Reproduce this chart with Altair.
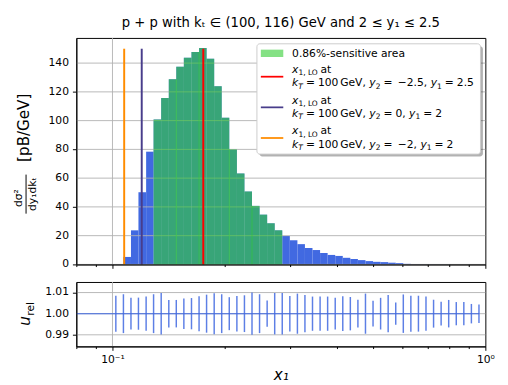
import altair as alt
import pandas as pd

FONT = "DejaVu Sans"

# ---------------- data ----------------
edges = [0.1021, 0.1070, 0.1121, 0.1174, 0.1231, 0.1289, 0.1351, 0.1416, 0.1483, 0.1554,
         0.1629, 0.1707, 0.1788, 0.1874, 0.1963, 0.2057, 0.2156, 0.2259, 0.2367, 0.2480,
         0.2599, 0.2723, 0.2853, 0.2990, 0.3133, 0.3282, 0.3439, 0.3604, 0.3776, 0.3957,
         0.4146, 0.4344, 0.4552, 0.4770, 0.4998, 0.5237, 0.5487, 0.5750, 0.6025, 0.6313,
         0.6615, 0.6931, 0.7263, 0.7610, 0.7974, 0.8356, 0.8755, 0.9174, 0.9613, 1.0073]
heights = [0.0, 5.2, 23.7, 50.2, 78.4, 100.7, 115.7, 128.7, 137.5, 143.7,
           147.7, 150.5, 143.0, 123.9, 102.0, 80.0, 63.2, 50.7, 40.7, 34.6,
           28.6, 23.7, 19.8, 16.8, 14.1, 11.4, 10.0, 8.0, 6.6, 5.9,
           4.6, 3.7, 3.0, 2.3, 1.8, 1.6, 1.2, 0.9, 0.4, 0.3,
           0.2, 0.15, 0.1, 0.08, 0.05, 0.04, 0.03, 0.02, 0.01]
rel_err = [0.0085, 0.0092, 0.0075, 0.0076, 0.0081, 0.0092, 0.0098, 0.0065, 0.0065, 0.0072,
           0.0074, 0.0083, 0.0090, 0.0097, 0.0092, 0.0078, 0.0084, 0.0087, 0.0100, 0.0092,
           0.0062, 0.0098, 0.0098, 0.0084, 0.0095, 0.0088, 0.0081, 0.0081, 0.0081, 0.0075,
           0.0082, 0.0079, 0.0066, 0.0095, 0.0061, 0.0075, 0.0088, 0.0053, 0.0091, 0.0085,
           0.0085, 0.0081, 0.0066, 0.0056, 0.0065, 0.0055, 0.0055, 0.0046, 0.0044]
sens_first, sens_last = 5, 21          # bins inside the sensitive area
sens_joins = [8, 11, 15, 18]           # edges where the area pieces overlap
xlo_values = [0.1752, 0.1198, 0.1075]
xlo_colors = ["#ff0000", "#483d8b", "#ff8c00"]
xlo_top = 150
y_ticks = [0, 20, 40, 60, 80, 100, 120, 140]
r_ticks = [0.99, 1.00, 1.01]
x_ticks = [0.08, 0.09, 0.1, 0.2, 0.3, 0.4, 0.5, 0.6, 0.7, 0.8, 0.9, 1.0]
x_domain = [0.08, 1.0]
y_domain = [0, 157.5]
r_domain = [0.9845, 1.0150]

title_text = "p + p with kₜ ∈ (100, 116) GeV and 2 ≤ y₁ ≤ 2.5"
legend_area_label = "0.86%-sensitive area"
legend_y2 = ["−2.5,", "0,", "−2,"]
legend_y1 = ["2.5", "2", "2"]

# ---------------- tables ----------------
bins = pd.DataFrame({"lo": edges[:-1], "hi": edges[1:], "h": heights,
                     "i": list(range(len(heights)))})
sens = bins[(bins.i >= sens_first) & (bins.i <= sens_last)]
joins = pd.DataFrame({"x": [edges[i] for i in sens_joins],
                      "h": [min(heights[i - 1], heights[i]) for i in sens_joins]})
errs = pd.DataFrame({"x": edges[:len(rel_err)],
                     "lo": [1 - e for e in rel_err],
                     "hi": [1 + e for e in rel_err]})
xlo = pd.DataFrame({"x": xlo_values, "c": xlo_colors})
ygrid = pd.DataFrame({"v": y_ticks})
rgrid = pd.DataFrame({"v": r_ticks})
one = pd.DataFrame({"k": [0]})

W, H_MAIN, H_RATIO = 419, 232, 66

xs = alt.Scale(type="log", domain=x_domain, nice=False)
ys = alt.Scale(domain=y_domain, nice=False, zero=False)
rs = alt.Scale(domain=r_domain, nice=False, zero=False)

tick_cond = {"condition": {"test": "datum.value == 0.1 || datum.value == 1", "value": 4},
             "value": 2.2}

x_axis_main = alt.Axis(values=x_ticks, labels=False, title=None, grid=False,
                       domainColor="black", tickColor="black", tickSize=tick_cond, zindex=1)
y_axis_main = alt.Axis(values=y_ticks, title=None, grid=False, labels=False, tickSize=4,
                       domainColor="black", tickColor="black", zindex=1)
x_axis_ratio = alt.Axis(values=x_ticks, grid=False, tickSize=tick_cond,
                        labelExpr="datum.value == 0.1 ? '10⁻¹' : (datum.value == 1 ? '10⁰' : '')",
                        labelFlush=False, labelOverlap=False, labelFontSize=11, labelPadding=3.5,
                        title="x₁", titleFontSize=15.5, titleFontStyle="italic",
                        titleFontWeight="normal", titlePadding=3,
                        domainColor="black", tickColor="black", zindex=1)
y_axis_ratio = alt.Axis(values=r_ticks, title=None, grid=False, labels=False, tickSize=4,
                        domainColor="black", tickColor="black", zindex=1)

GRID = "#b0b0b0"


def txt(t, x, y, size=11, style="normal", angle=0, align="left", baseline="alphabetic",
        color="black"):
    kw = dict(font=FONT, fontSize=size, fontStyle=style, align=align, baseline=baseline,
              color=color)
    if angle:
        kw["angle"] = angle
    return alt.Chart(one).mark_text(**kw).encode(
        x=alt.value(x), y=alt.value(y), text=alt.value(t))


# ---------------- main panel ----------------
blue = alt.Chart(bins).mark_rect(color="#4169e1").encode(
    x=alt.X("lo:Q", scale=xs, axis=x_axis_main),
    x2="hi:Q",
    y=alt.Y("h:Q", scale=ys, axis=y_axis_main),
    y2=alt.datum(0),
)
hgrid = alt.Chart(ygrid).mark_rule(color=GRID, strokeWidth=0.9).encode(
    y=alt.Y("v:Q", scale=ys, axis=y_axis_main))
ylabels = alt.Chart(ygrid).mark_text(font=FONT, fontSize=11, align="right",
                                     baseline="middle", color="black").encode(
    y=alt.Y("v:Q", scale=ys, axis=y_axis_main),
    x=alt.value(-7.5),
    text=alt.Text("v:Q", format="d"),
)
vgrid = alt.Chart(one).mark_rule(color=GRID, strokeWidth=0.9).encode(
    x=alt.datum(0.1, scale=xs))
green = alt.Chart(sens).mark_rect(color="#32cd32", opacity=0.6).encode(
    x=alt.X("lo:Q", scale=xs, axis=x_axis_main),
    x2="hi:Q",
    y=alt.Y("h:Q", scale=ys, axis=y_axis_main),
    y2=alt.datum(0),
)
join_lines = alt.Chart(joins).mark_rule(color="#32cd32", opacity=0.6, strokeWidth=1).encode(
    x=alt.X("x:Q", scale=xs, axis=x_axis_main),
    y=alt.Y("h:Q", scale=ys, axis=y_axis_main),
    y2=alt.datum(0),
)
vlines = alt.Chart(xlo).mark_rule(strokeWidth=2, opacity=1).encode(
    x=alt.X("x:Q", scale=xs, axis=x_axis_main),
    y=alt.datum(0),
    y2=alt.datum(xlo_top),
    color=alt.Color("c:N", scale=None),
)

# legend (drawn in pixel space of the plot area)
LX0, LX1, LY0, LY1 = 185, 414, 6, 119
legend_layers = [
    alt.Chart(one).mark_rect(color="#000000", opacity=0.3, cornerRadius=3).encode(
        x=alt.value(LX0 + 2.5), x2=alt.value(LX1 + 2.5), y=alt.value(LY0 + 2.5),
        y2=alt.value(LY1 + 2.5)),
    alt.Chart(one).mark_rect(color="white", stroke="#cccccc", strokeWidth=1,
                             cornerRadius=3).encode(
        x=alt.value(LX0), x2=alt.value(LX1), y=alt.value(LY0), y2=alt.value(LY1)),
    alt.Chart(one).mark_rect(color="#32cd32", opacity=0.6).encode(
        x=alt.value(189), x2=alt.value(212), y=alt.value(12), y2=alt.value(19.5)),
    txt(legend_area_label, 221, 19.5),
]
TX = 221
SUB = 7.7
for k in range(3):
    base_a = 36 + 31.4 * k
    base_b = base_a + 13.7
    hy = base_a + 3.7
    legend_layers.append(
        alt.Chart(one).mark_rule(color=xlo_colors[k], strokeWidth=1.8).encode(
            x=alt.value(189), x2=alt.value(212), y=alt.value(hy)))
    # line a: x_{1,LO} at
    legend_layers += [
        txt("x", TX, base_a, style="italic"),
        txt("1, LO", TX + 6.5, base_a + 2.3, size=SUB),
        txt("at", TX + 29, base_a),
    ]
    # line b: k_T = 100 GeV, y_2 = ..., y_1 = ...
    y2s = legend_y2[k]
    y2w = {"−2.5,": 30.2, "0,": 10.5, "−2,": 19.7}[y2s]
    off2 = (108.3 if y2s.startswith("−") else 105.9) + y2w + 3.5
    legend_layers += [
        txt("k", TX, base_b, style="italic"),
        txt("T", TX + 6.4, base_b + 2.3, size=SUB, style="italic"),
        txt("=", TX + 14.2, base_b),
        txt("100", TX + 26.5, base_b),
        txt("GeV,", TX + 49.3, base_b),
        txt("y", TX + 79.1, base_b, style="italic"),
        txt("2", TX + 85.6, base_b + 2.3, size=SUB),
        txt("=", TX + 93.6, base_b),
        txt(y2s, TX + (108.3 if y2s.startswith("−") else 105.9), base_b),
        txt("y", TX + off2, base_b, style="italic"),
        txt("1", TX + off2 + 6.5, base_b + 2.3, size=SUB),
        txt("=", TX + off2 + 14.5, base_b),
        txt(legend_y1[k], TX + off2 + 26.8, base_b),
    ]

# y-axis title of main panel:  dσ²/dy₁dk_T  [pB/GeV]
ytitle_main = [
    txt("[pB/GeV]", -53, 92, size=15.5, angle=270, align="center", baseline="middle"),
    txt("dσ²", -58.5, 164, size=11, angle=270, align="center", baseline="middle"),
    alt.Chart(one).mark_rule(color="black", strokeWidth=1).encode(
        x=alt.value(-51.5), y=alt.value(140), y2=alt.value(180)),
    txt("dy₁dkₜ", -44.5, 160, size=11, angle=270, align="center", baseline="middle"),
]

main = alt.layer(blue, hgrid, ylabels, vgrid, green, join_lines, vlines,
                 *legend_layers, *ytitle_main).properties(
    width=W, height=H_MAIN,
    title=alt.TitleParams(text=title_text, font=FONT, fontSize=13.5, fontWeight="normal",
                          anchor="middle", offset=8, color="black"),
)

# ---------------- ratio panel ----------------
r_hgrid = alt.Chart(rgrid).mark_rule(color=GRID, strokeWidth=0.9).encode(
    y=alt.Y("v:Q", scale=rs, axis=y_axis_ratio))
r_labels = alt.Chart(rgrid).mark_text(font=FONT, fontSize=11, align="right",
                                      baseline="middle", color="black").encode(
    y=alt.Y("v:Q", scale=rs, axis=y_axis_ratio),
    x=alt.value(-7.5),
    text=alt.Text("v:Q", format=".2f"),
)
r_vgrid = alt.Chart(one).mark_rule(color=GRID, strokeWidth=0.9).encode(
    x=alt.datum(0.1, scale=xs))
r_line = alt.Chart(one).mark_rule(color="#4169e1", strokeWidth=1.1).encode(
    x=alt.datum(x_domain[0], scale=xs), x2=alt.datum(edges[len(rel_err) - 1]),
    y=alt.datum(1.0, scale=rs))
r_bars = alt.Chart(errs).mark_rule(color="#4169e1", strokeWidth=1.5, opacity=0.85).encode(
    x=alt.X("x:Q", scale=xs, axis=x_axis_ratio),
    y=alt.Y("lo:Q", scale=rs, axis=y_axis_ratio),
    y2="hi:Q",
)
ytitle_ratio = [
    txt("u", -52, 40, size=15.5, style="italic", angle=270, align="center",
        baseline="middle"),
    txt("rel", -46.5, 27.5, size=11, angle=270, align="center", baseline="middle"),
]
ratio = alt.layer(r_hgrid, r_labels, r_vgrid, r_line, r_bars, *ytitle_ratio).properties(
    width=W, height=H_RATIO)

chart = alt.vconcat(main, ratio, spacing=11).properties(
    padding={"left": 5, "top": 3, "right": 5, "bottom": 3},
).configure_view(stroke="black", strokeWidth=1).configure_axis(
    labelFont=FONT, titleFont=FONT, labelColor="black", titleColor="black")

chart.save("out.html", embed_options={"renderer": "svg", "actions": False})
